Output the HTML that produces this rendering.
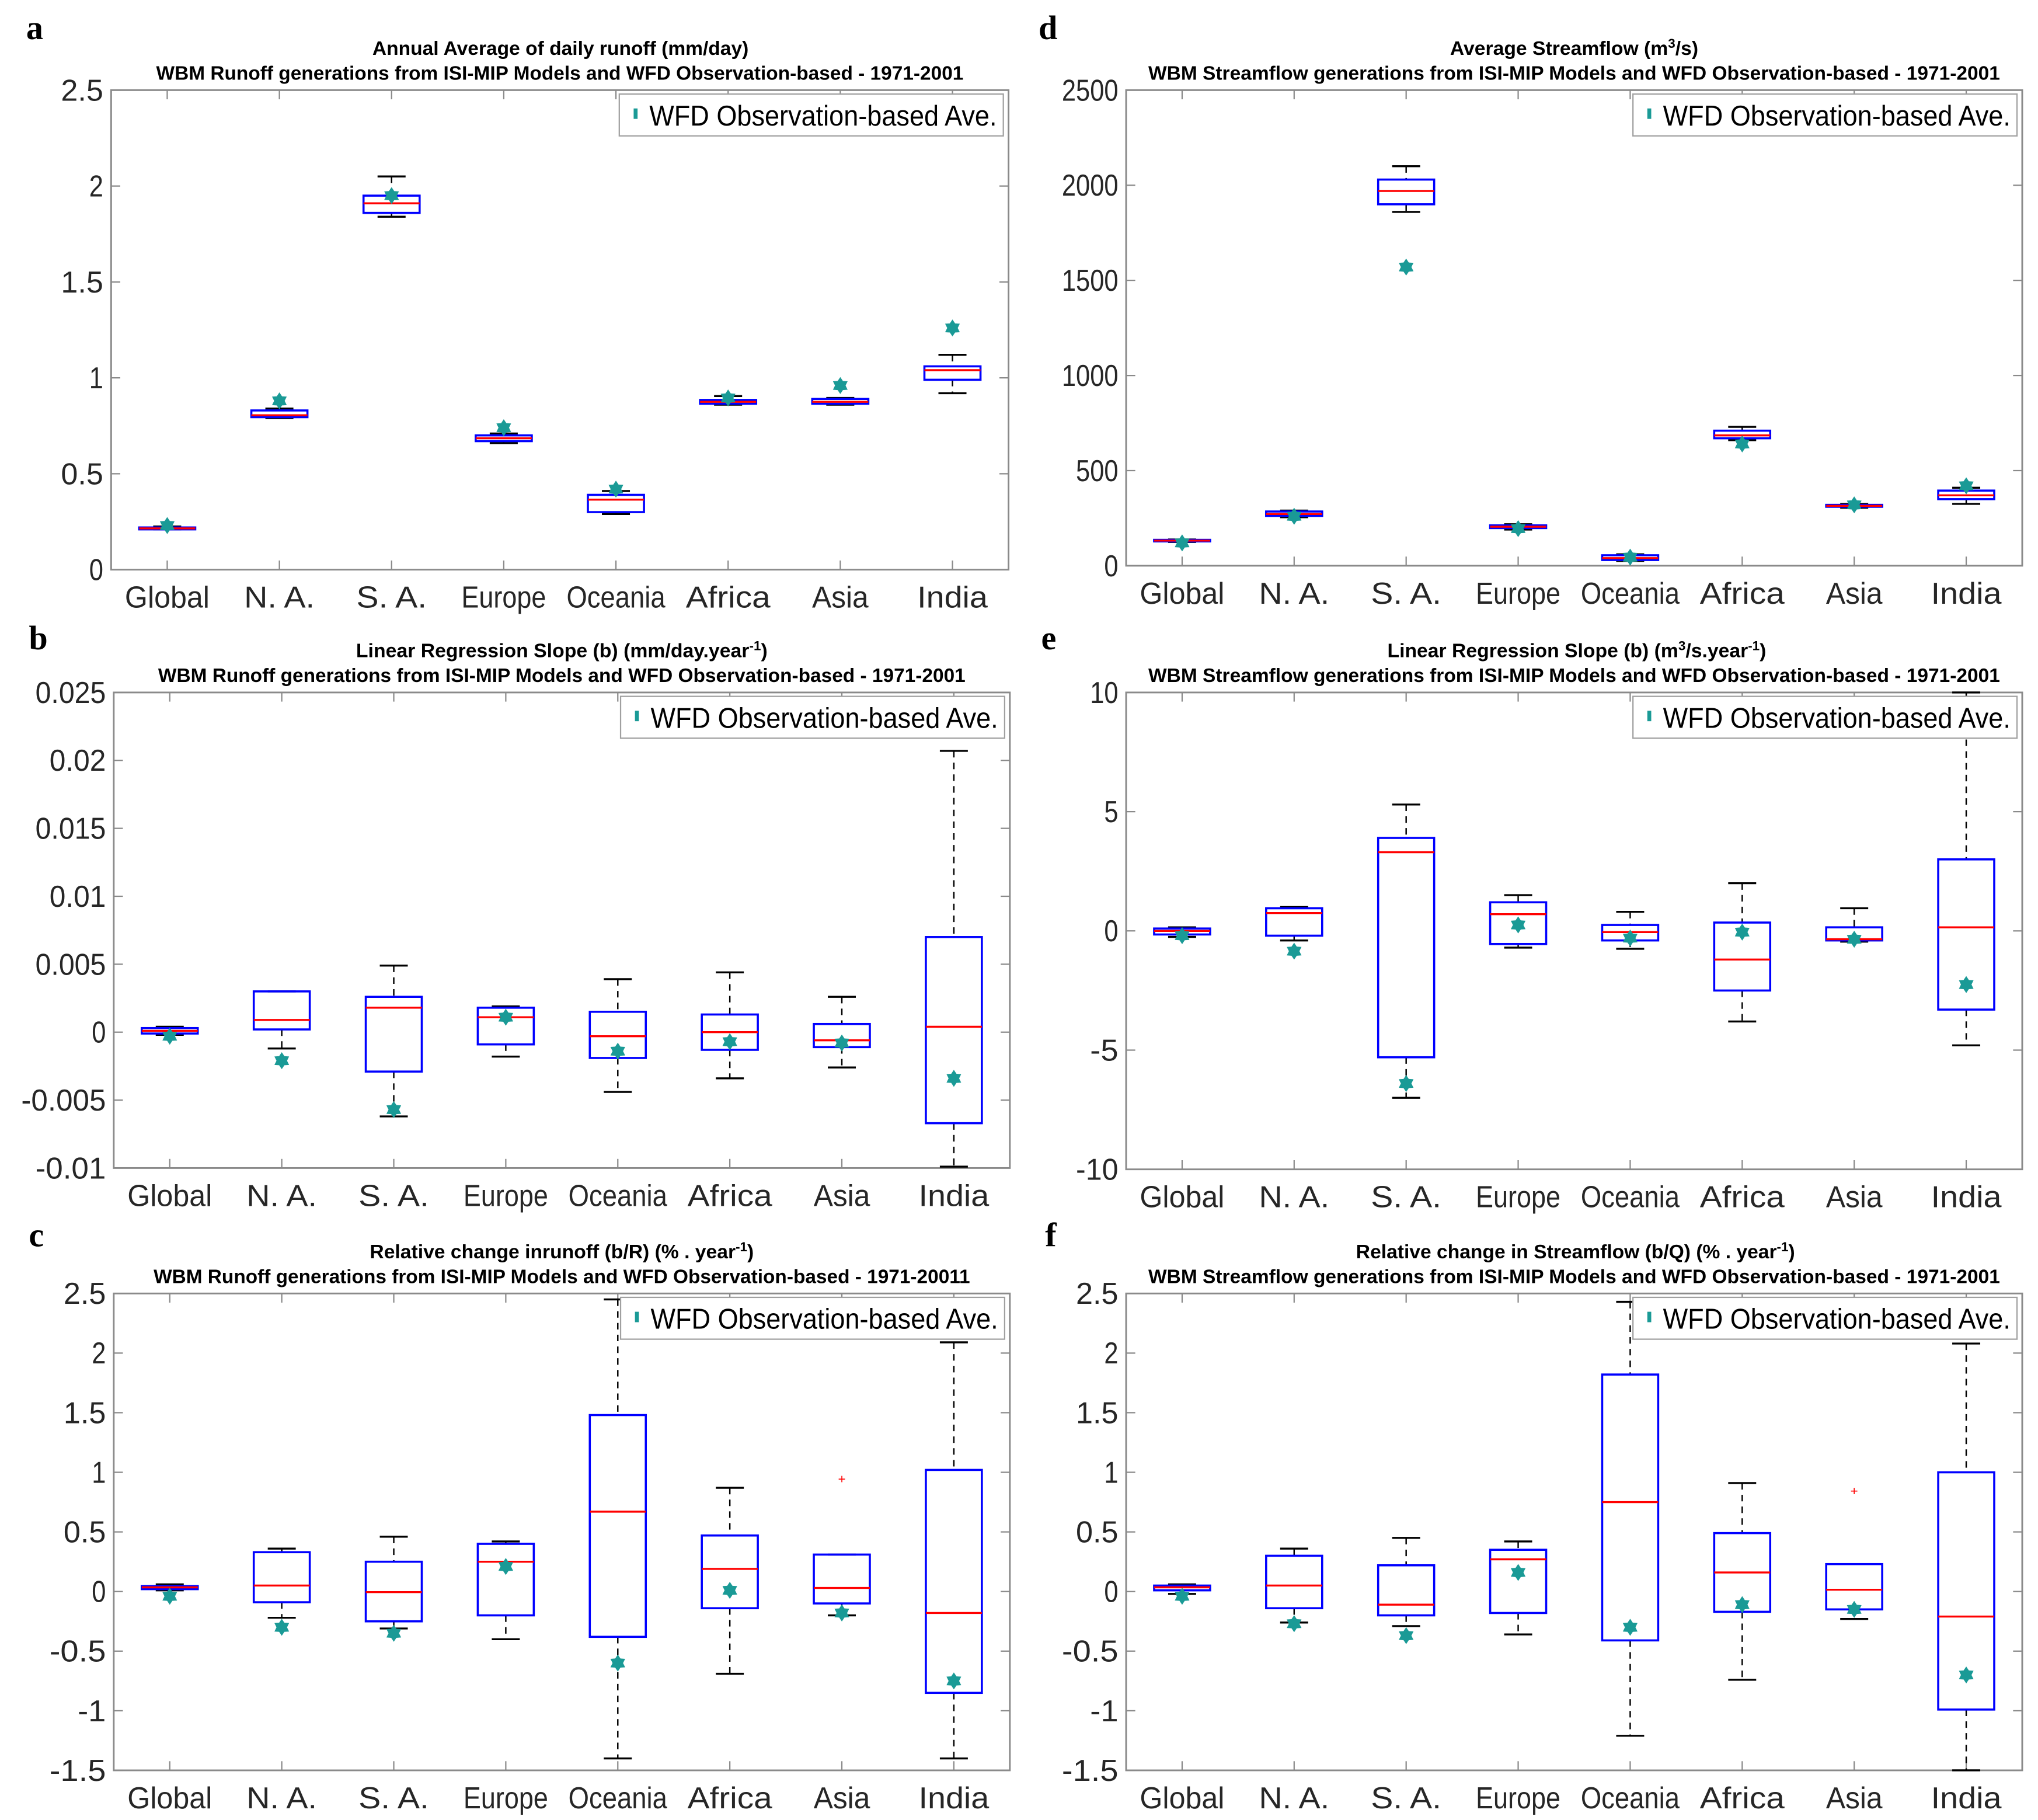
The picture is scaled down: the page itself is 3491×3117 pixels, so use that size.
<!DOCTYPE html>
<html><head><meta charset="utf-8"><style>
html,body{margin:0;padding:0;background:#fff;}
svg{display:block;}
</style></head><body>
<svg id="fig" xmlns="http://www.w3.org/2000/svg" width="3491" height="3117" viewBox="0 0 1560 1393" font-family="'Liberation Sans', Arial, sans-serif"></svg>
<script>
const categories = ["Global","N. A.","S. A.","Europe","Oceania","Africa","Asia","India"];
// each row: [lowerWhisker, q1, median, q3, upperWhisker]
const boxA = [[0.21,0.21,0.215,0.22,0.225],[0.79,0.795,0.805,0.83,0.84],[1.84,1.86,1.91,1.95,2.05],[0.66,0.67,0.685,0.70,0.71],[0.29,0.30,0.365,0.39,0.41],[0.86,0.865,0.875,0.885,0.905],[0.86,0.865,0.875,0.89,0.895],[0.92,0.99,1.04,1.06,1.12]];
const obsA = [0.23,0.88,1.95,0.74,0.42,0.895,0.96,1.26];
const ticksA = [0,0.5,1,1.5,2,2.5];
const tickLabelsA = ["0","0.5","1","1.5","2","2.5"];

const boxD = [[125,128,132,136,138],[255,262,272,285,290],[1860,1900,1970,2030,2100],[190,198,205,212,218],[25,30,40,55,60],[660,670,685,710,730],[305,310,315,320,325],[325,350,370,395,410]];
const obsD = [120,260,1570,195,45,640,320,420];
const ticksD = [0,500,1000,1500,2000,2500];
const tickLabelsD = ["0","500","1000","1500","2000","2500"];

const boxB = [[-0.0002,-0.0001,0.0001,0.0003,0.0004],[-0.0012,0.0002,0.0009,0.003,0.003],[-0.0062,-0.0029,0.0018,0.0026,0.0049],[-0.0018,-0.0009,0.0011,0.0018,0.0019],[-0.0044,-0.0019,-0.0003,0.0015,0.0039],[-0.0034,-0.0013,0.0,0.0013,0.0044],[-0.0026,-0.0011,-0.0006,0.0006,0.0026],[-0.0099,-0.0067,0.0004,0.007,0.0207]];
const obsB = [-0.0003,-0.0021,-0.0057,0.0011,-0.0014,-0.0007,-0.0008,-0.0034];
const ticksB = [-0.01,-0.005,0,0.005,0.01,0.015,0.02,0.025];
const tickLabelsB = ["-0.01","-0.005","0","0.005","0.01","0.015","0.02","0.025"];

const boxE = [[-0.25,-0.15,0.0,0.1,0.15],[-0.4,-0.2,0.75,0.95,1.0],[-7.0,-5.3,3.3,3.9,5.3],[-0.7,-0.55,0.7,1.2,1.5],[-0.75,-0.4,-0.05,0.25,0.8],[-3.8,-2.5,-1.2,0.35,2.0],[-0.45,-0.4,-0.35,0.15,0.95],[-4.8,-3.3,0.15,3.0,10]];
const obsE = [-0.2,-0.85,-6.4,0.25,-0.3,-0.05,-0.35,-2.25];
const ticksE = [-10,-5,0,5,10];
const tickLabelsE = ["-10","-5","0","5","10"];

const boxC = [[0.01,0.02,0.035,0.045,0.06],[-0.22,-0.09,0.05,0.33,0.36],[-0.31,-0.25,-0.005,0.25,0.46],[-0.40,-0.20,0.25,0.40,0.42],[-1.40,-0.38,0.67,1.48,2.45],[-0.69,-0.14,0.19,0.47,0.87],[-0.20,-0.10,0.03,0.31,0.31],[-1.40,-0.85,-0.18,1.02,2.09]];
const obsC = [-0.04,-0.30,-0.35,0.21,-0.60,0.01,-0.18,-0.75];
const outC = [null,null,null,null,null,null,0.95,null];
const ticksC = [-1.5,-1,-0.5,0,0.5,1,1.5,2,2.5];
const tickLabelsC = ["-1.5","-1","-0.5","0","0.5","1","1.5","2","2.5"];

const boxF = [[-0.02,0.01,0.035,0.05,0.06],[-0.26,-0.14,0.05,0.30,0.36],[-0.29,-0.20,-0.11,0.22,0.45],[-0.36,-0.18,0.27,0.35,0.42],[-1.21,-0.41,0.75,1.82,2.43],[-0.74,-0.17,0.16,0.49,0.91],[-0.23,-0.15,0.015,0.23,0.23],[-1.5,-0.99,-0.21,1.0,2.08]];
const obsF = [-0.04,-0.27,-0.37,0.16,-0.30,-0.11,-0.15,-0.70];
const outF = [null,null,null,null,null,null,0.85,null];

const NS = "http://www.w3.org/2000/svg";
const svg = document.getElementById('fig');
function mk(tag, attrs, parent){const e=document.createElementNS(NS,tag);for(const k in attrs)e.setAttribute(k,attrs[k]);(parent||svg).appendChild(e);return e;}

function panel(p){
  const g = mk('g',{});
  
  
  const L=p.x0,R=p.x1,T=p.y0,B=p.y1;
  const ymin=p.ticks[0], ymax=p.ticks[p.ticks.length-1];
  const yS = v => B - (v-ymin)/(ymax-ymin)*(B-T);
  const step=(R-L)/categories.length;
  const xS = i => L + (i+0.5)*step;
  const lt = mk('text',{x:p.lx,y:p.ly,'font-family':"'Liberation Serif',serif",'font-weight':'bold','font-size':26,fill:'#000'},g);
  lt.textContent=p.letter;
  
  
  const cx=(L+R)/2;
  const t1 = mk('text',{x:p.t1x,y:T-27,'text-anchor':'middle','font-weight':'bold','font-size':15,fill:'#000',textLength:p.t1len,lengthAdjust:'spacingAndGlyphs'},g);
  t1.innerHTML=p.title1;
  
  
  const t2 = mk('text',{x:cx,y:T-8,'text-anchor':'middle','font-weight':'bold','font-size':15,fill:'#000',textLength:p.t2len,lengthAdjust:'spacingAndGlyphs'},g);
  t2.textContent=p.title2;
  
  
  const box = mk('rect',{x:L,y:T,width:R-L,height:B-T,fill:'none',stroke:'#8a8a8a','stroke-width':1.3},g);
  
  
  p.ticks.forEach((v,k)=>{
    const y=yS(v);
    mk('line',{x1:L,x2:L+7,y1:y,y2:y,stroke:'#8a8a8a','stroke-width':1},g);
    mk('line',{x1:R,x2:R-7,y1:y,y2:y,stroke:'#8a8a8a','stroke-width':1},g);
    const tl=mk('text',{x:L-6,y:y+8,'text-anchor':'end','font-size':23,fill:'#262626',textLength:p.labels[k].length*10.8,lengthAdjust:'spacingAndGlyphs'},g);
    tl.textContent=p.labels[k];
    
    
  });
  categories.forEach((c,i)=>{
    const x=xS(i);
    mk('line',{x1:x,x2:x,y1:B,y2:B-7,stroke:'#8a8a8a','stroke-width':1},g);
    mk('line',{x1:x,x2:x,y1:T,y2:T+7,stroke:'#8a8a8a','stroke-width':1},g);
    const xl=mk('text',{x:x,y:B+29,'text-anchor':'middle','font-size':23,fill:'#262626',textLength:c.length*10.8,lengthAdjust:'spacingAndGlyphs'},g);
    xl.textContent=c;
    
    
  });
  const hw=step*0.25, cw=step*0.125;
  p.box.forEach((b,i)=>{
    const x=xS(i);
    const bg=mk('g',{},g);
    
    
    mk('line',{x1:x,x2:x,y1:yS(b[4]),y2:yS(b[3]),stroke:'#000','stroke-width':1.1,'stroke-dasharray':'5,4'},bg);
    mk('line',{x1:x,x2:x,y1:yS(b[1]),y2:yS(b[0]),stroke:'#000','stroke-width':1.1,'stroke-dasharray':'5,4'},bg);
    mk('line',{x1:x-cw,x2:x+cw,y1:yS(b[4]),y2:yS(b[4]),stroke:'#000','stroke-width':1.5},bg);
    mk('line',{x1:x-cw,x2:x+cw,y1:yS(b[0]),y2:yS(b[0]),stroke:'#000','stroke-width':1.5},bg);
    mk('rect',{x:x-hw,y:yS(b[3]),width:2*hw,height:Math.max(yS(b[1])-yS(b[3]),1),fill:'none',stroke:'#0000ff','stroke-width':1.6},bg);
    mk('line',{x1:x-hw,x2:x+hw,y1:yS(b[2]),y2:yS(b[2]),stroke:'#ff0000','stroke-width':1.5},bg);
    if(p.out && p.out[i]!==null){
      const o=mk('text',{x:x,y:yS(p.out[i])+4,'text-anchor':'middle','font-size':10,fill:'#ff0000'},bg);
      o.textContent='+';
      
      
    }
    const m=mk('path',{d:star(x,yS(p.obs[i]),6.5),fill:'#1a9a96'},bg);
    
    
  });
  const lg=mk('g',{},g);
  
  
  mk('rect',{x:R-298,y:T+3,width:294,height:32,fill:'#fff',stroke:'#a0a0a0','stroke-width':1},lg);
  mk('rect',{x:R-287,y:T+14,width:3,height:8,fill:'#1a9a96'},lg);
  const ltx=mk('text',{x:R-275,y:T+27,'font-size':22,fill:'#000',textLength:266,lengthAdjust:'spacingAndGlyphs'},lg);
  ltx.textContent='WFD Observation-based Ave.';
  
  
}
function star(cx,cy,r){
  let d='';
  for(let k=0;k<12;k++){const a=Math.PI/6*k-Math.PI/2;const rr=k%2?r*0.62:r;d+=(k?'L':'M')+(cx+rr*Math.cos(a)).toFixed(2)+','+(cy+rr*Math.sin(a)).toFixed(2);}
  return d+'Z';
}
const sup=(s)=>'<tspan baseline-shift="super" font-size="10">'+s+'</tspan>';
panel({letter:'a',lx:20,ly:30,x0:85,x1:772,y0:69,y1:436,ticks:ticksA,labels:tickLabelsA,box:boxA,obs:obsA,t1x:429,t1len:288,
  title1:'Annual Average of daily runoff (mm/day)',title2:'WBM Runoff generations from ISI-MIP Models and WFD Observation-based - 1971-2001',t2len:618});
panel({letter:'d',lx:795,ly:30,x0:862,x1:1548,y0:69,y1:433,ticks:ticksD,labels:tickLabelsD,box:boxD,obs:obsD,t1x:1205,t1len:190,
  title1:'Average Streamflow (m'+sup('3')+'/s)',title2:'WBM Streamflow generations from ISI-MIP Models and WFD Observation-based - 1971-2001',t2len:652});
panel({letter:'b',lx:22,ly:497,x0:87,x1:773,y0:530,y1:894,ticks:ticksB,labels:tickLabelsB,box:boxB,obs:obsB,t1x:430,t1len:315,
  title1:'Linear Regression Slope (b) (mm/day.year'+sup('-1')+')',title2:'WBM Runoff generations from ISI-MIP Models and WFD Observation-based - 1971-2001',t2len:618});
panel({letter:'e',lx:797,ly:497,x0:862,x1:1548,y0:530,y1:895,ticks:ticksE,labels:tickLabelsE,box:boxE,obs:obsE,t1x:1207,t1len:290,
  title1:'Linear Regression Slope (b) (m'+sup('3')+'/s.year'+sup('-1')+')',title2:'WBM Streamflow generations from ISI-MIP Models and WFD Observation-based - 1971-2001',t2len:652});
panel({letter:'c',lx:22,ly:954,x0:87,x1:773,y0:990,y1:1355,ticks:ticksC,labels:tickLabelsC,box:boxC,obs:obsC,out:outC,t1x:430,t1len:294,
  title1:'Relative change inrunoff (b/R) (% . year'+sup('-1')+')',title2:'WBM Runoff generations from ISI-MIP Models and WFD Observation-based - 1971-20011',t2len:625});
panel({letter:'f',lx:800,ly:954,x0:862,x1:1548,y0:990,y1:1355,ticks:ticksC,labels:tickLabelsC,box:boxF,obs:obsF,out:outF,t1x:1206,t1len:336,
  title1:'Relative change in Streamflow (b/Q) (% . year'+sup('-1')+')',title2:'WBM Streamflow generations from ISI-MIP Models and WFD Observation-based - 1971-2001',t2len:652});
</script>
</body></html>
